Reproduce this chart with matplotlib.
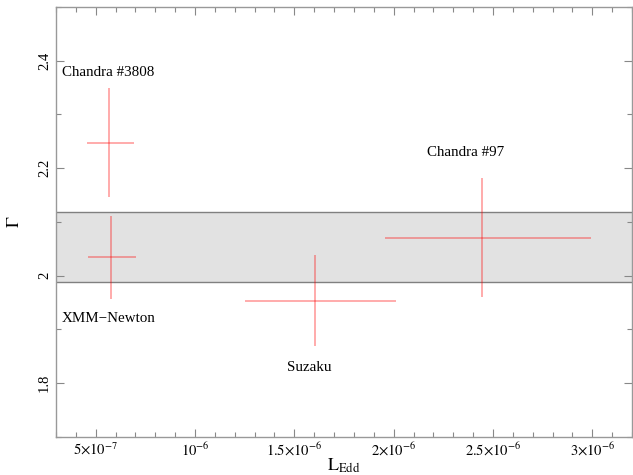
import matplotlib
matplotlib.use("Agg")
import matplotlib.pyplot as plt
from matplotlib.ticker import FixedLocator, MultipleLocator

plt.rcParams["font.family"] = ["Liberation Serif", "DejaVu Serif"]
plt.rcParams["mathtext.fontset"] = "stix"

# Observations
names = ["Chandra #3808", "XMM\u2212Newton", "Suzaku", "Chandra #97"]
l_edd = [5.65e-7, 5.76e-7, 1.605e-6, 2.443e-6]
l_lo = [4.54e-7, 4.61e-7, 1.252e-6, 1.954e-6]
l_hi = [6.91e-7, 7.05e-7, 2.014e-6, 2.996e-6]
gamma = [2.247, 2.034, 1.953, 2.070]
g_lo = [2.147, 1.956, 1.869, 1.961]
g_hi = [2.349, 2.111, 2.039, 2.181]

# label positions (data coords) and alignment
lab_x = [3.3e-7, 3.3e-7, 1.575e-6, 2.36e-6]
lab_y = [2.379, 1.921, 1.830, 2.230]
lab_ha = ["left", "left", "center", "center"]

# mean band
band = (1.988, 2.118)

xticks = [5e-7, 1e-6, 1.5e-6, 2e-6, 2.5e-6, 3e-6]
xticklabels = [r"$5{\times}10^{-7}$", r"$10^{-6}$", r"$1.5{\times}10^{-6}$",
               r"$2{\times}10^{-6}$", r"$2.5{\times}10^{-6}$", r"$3{\times}10^{-6}$"]
yticks = [1.8, 2.0, 2.2, 2.4]
yticklabels = ["1.8", "2", "2.2", "2.4"]

fig = plt.figure(figsize=(6.33, 4.75), dpi=100)
ax = fig.add_axes([56 / 633, 1 - 437 / 475, (632 - 56) / 633, (437 - 7) / 475])

ax.axhspan(band[0], band[1], facecolor="#e2e2e2", edgecolor="none", zorder=0)
ax.axhline(band[0], color="#808080", lw=1, zorder=1)
ax.axhline(band[1], color="#808080", lw=1, zorder=1)

xerr = [[x - lo for x, lo in zip(l_edd, l_lo)], [hi - x for x, hi in zip(l_edd, l_hi)]]
yerr = [[g - lo for g, lo in zip(gamma, g_lo)], [hi - g for g, hi in zip(gamma, g_hi)]]
ax.errorbar(l_edd, gamma, xerr=xerr, yerr=yerr, fmt="none", ecolor="red",
            elinewidth=1.1, alpha=0.42, capsize=0, zorder=2)

for n, x, y, ha in zip(names, lab_x, lab_y, lab_ha):
    ax.text(x, y, n, ha=ha, va="center", fontsize=10.8)

ax.set_xlim(3.0e-7, 3.2e-6)
ax.set_ylim(1.7, 2.5)
ax.xaxis.set_major_locator(FixedLocator(xticks))
ax.set_xticklabels(xticklabels)
ax.xaxis.set_minor_locator(MultipleLocator(1e-7))
ax.yaxis.set_major_locator(FixedLocator(yticks))
ax.set_yticklabels(yticklabels, rotation=90, va="center")
ax.yaxis.set_minor_locator(MultipleLocator(0.1))

ax.tick_params(which="both", direction="in", top=True, right=True,
               color="#888888", labelsize=10.5)
ax.tick_params(which="major", length=6, width=0.8)
ax.tick_params(which="minor", length=3.5, width=0.8)
ax.tick_params(axis="x", pad=3)
for s in ax.spines.values():
    s.set_color("#999999")
    s.set_linewidth(1)

ax.set_xlabel(r"$\mathrm{L_{Edd}}$", fontsize=13, va="center")
ax.xaxis.set_label_coords(0.5, -0.068)
ax.set_ylabel(r"$\Gamma$", fontsize=13, va="center")
ax.yaxis.set_label_coords(-0.072, 0.5)

fig.savefig("out.png", dpi=100)
